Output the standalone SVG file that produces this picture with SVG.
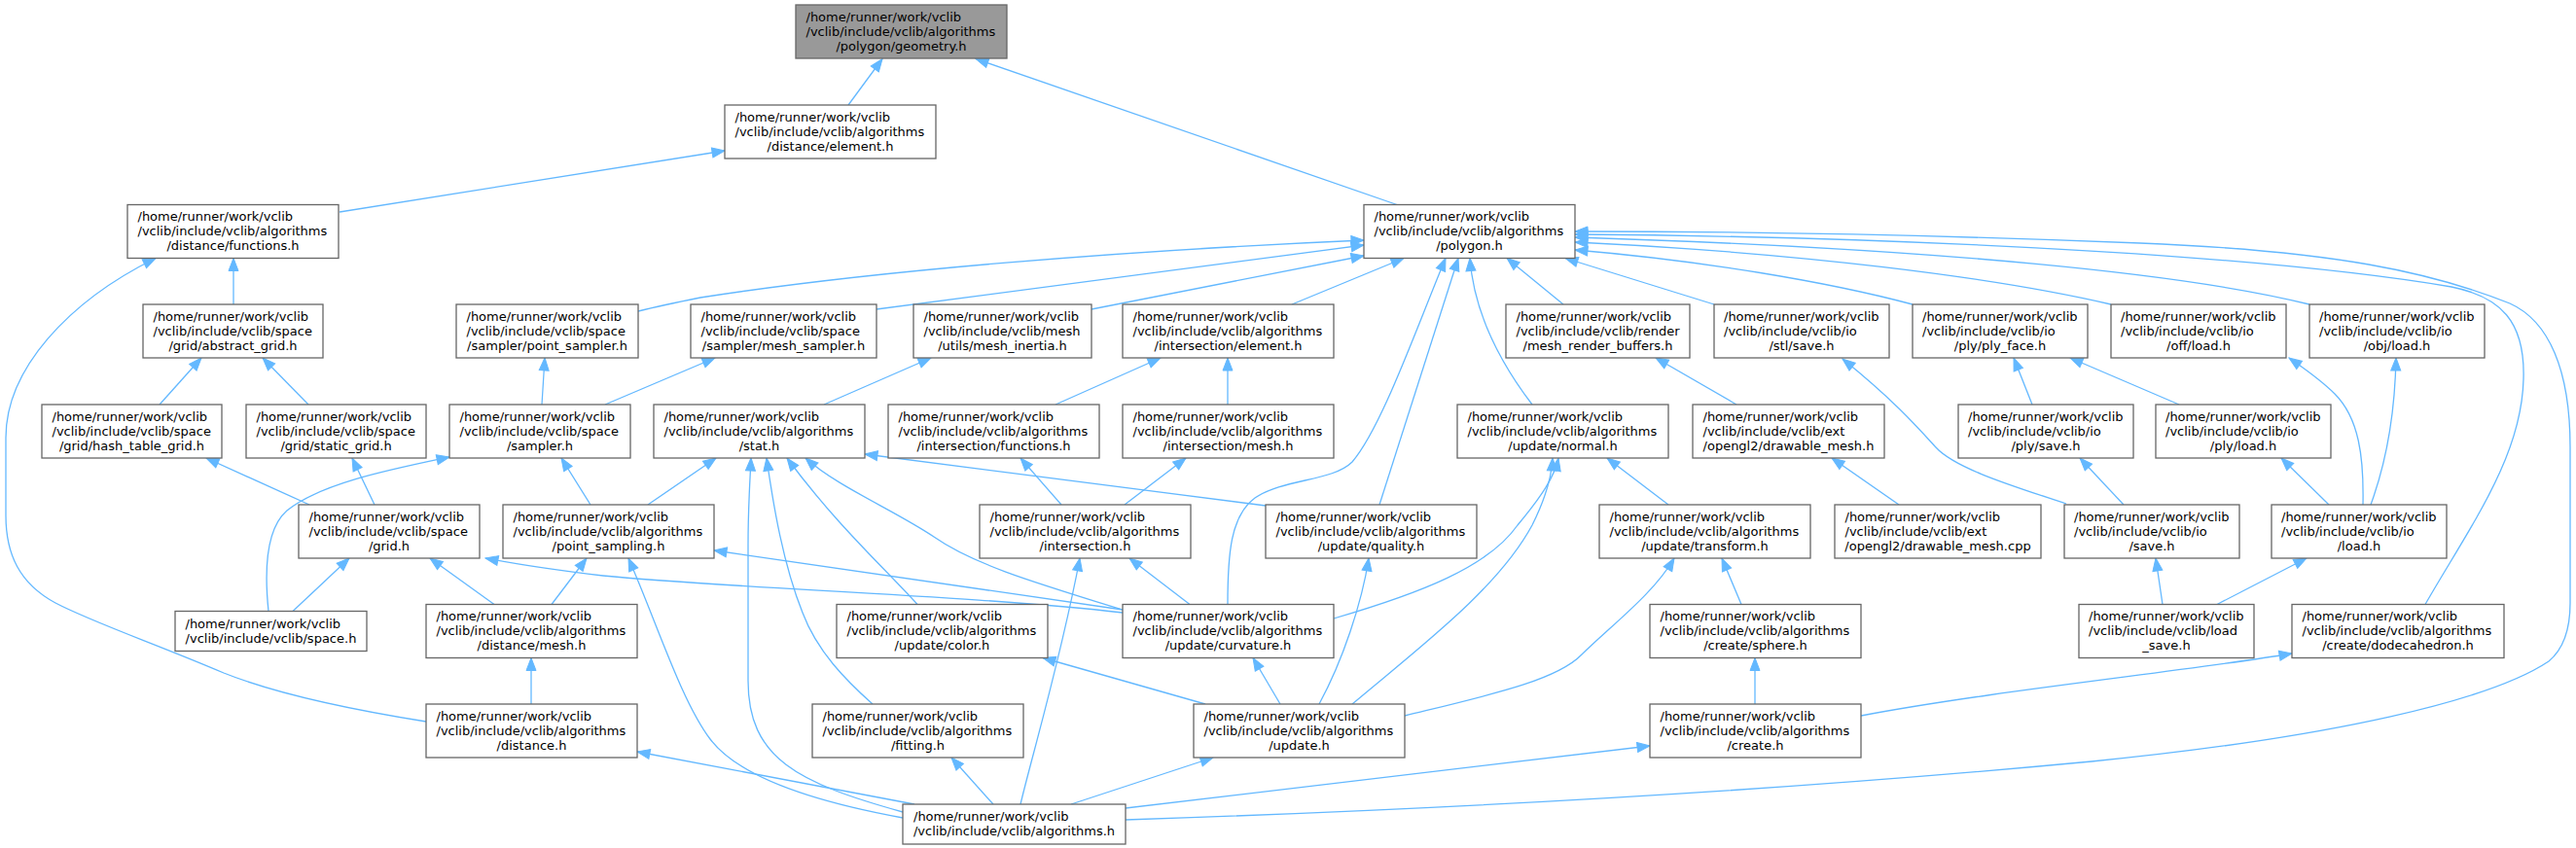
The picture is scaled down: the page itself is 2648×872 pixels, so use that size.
<svg xmlns="http://www.w3.org/2000/svg" width="2648" height="872" viewBox="0 0 2648 872">
<defs>
<marker id="a" markerUnits="userSpaceOnUse" markerWidth="14" markerHeight="10" refX="13" refY="5" orient="auto" overflow="visible">
<path d="M0,0 L13,5 L0,10 Z" fill="#63b8ff" stroke="#63b8ff" stroke-width="1"/>
</marker>
<style>
.n rect{fill:#ffffff;stroke:#666666;stroke-width:1.3}
.hl rect{fill:#999999}
text{font-family:"DejaVu Sans",sans-serif;font-size:13px;fill:#000000}
.m{text-anchor:middle}
#edges path{fill:none;stroke:#63b8ff;stroke-width:1.3;marker-end:url(#a)}
</style>
</defs>
<rect width="2648" height="872" fill="#ffffff"/>
<g id="edges">
<path d="M872,108 L907,60.5"/>
<path d="M1436,210.5 L1003,60.5"/>
<path d="M349,218 L745,155"/>
<path d="M240,313 L240,265.5"/>
<path d="M438,742 C350,728 280,712 230,692 C160,662 95,640 57,620 C20,600 6,570 6,530 L6,450 C6,380 70,310 160,265.5"/>
<path d="M164,416 L207,368"/>
<path d="M317,416 L270,368"/>
<path d="M318,519 L212,471"/>
<path d="M385,519 L362,471"/>
<path d="M276,628.5 C272,590 272,545 295,525 C330,497 400,483 462,470"/>
<path d="M301,628.5 L359,574"/>
<path d="M508,621.5 L442,574"/>
<path d="M567,621.5 L603,574"/>
<path d="M546,724 L546,676.5"/>
<path d="M656,320 C680,314 700,310 720,306 C900,278 1150,258 1402,247"/>
<path d="M901,318 L1402,252"/>
<path d="M1122,318 L1402,263"/>
<path d="M1328,313 L1443,265.5"/>
<path d="M557,416 L560,368"/>
<path d="M622,416 L735,368"/>
<path d="M847,416 L957,368"/>
<path d="M607,519 L577,471"/>
<path d="M666,519 L736,471"/>
<path d="M1301,520 L889,467"/>
<path d="M928,835 C820,805 769,780 769,700 L769,560 C769,520 771,495 772,471"/>
<path d="M928,841 C840,825 760,800 730,760 C700,720 675,640 646,574"/>
<path d="M940,827 L655,773"/>
<path d="M1021,827 L978,779"/>
<path d="M1049,827 C1060,780 1090,680 1110,574"/>
<path d="M1101,827 L1247,779"/>
<path d="M1157,831 L1696,767"/>
<path d="M1157,843 C1400,835 1780,818 2150,783 C2400,758 2560,720 2620,680 C2638,665 2642,640 2642,620 L2642,460 C2642,380 2620,330 2580,312 C2500,280 2400,258 2200,250 C2000,242 1800,238 1619,238"/>
<path d="M2493,621.5 C2540,540 2592,470 2594,390 C2596,330 2570,305 2520,295 C2300,258 1900,243 1619,241"/>
<path d="M2374,313 C2250,282 2000,256 1619,244"/>
<path d="M2170,313 C2050,285 1850,260 1619,249"/>
<path d="M1966,313 C1880,290 1750,268 1619,257"/>
<path d="M1762,313 L1609,265.5"/>
<path d="M1607,313 L1549,265.5"/>
<path d="M1575,416 C1540,370 1515,320 1511,265.5"/>
<path d="M1418,519 L1499,265.5"/>
<path d="M1262,621.5 C1262,570 1265,530 1290,512 C1320,492 1370,495 1390,475 C1420,440 1455,340 1486,265.5"/>
<path d="M1085,416 L1193,368"/>
<path d="M1262,416 L1262,368"/>
<path d="M1091,519 L1049,471"/>
<path d="M1156,519 L1219,471"/>
<path d="M1223,621.5 L1161,574"/>
<path d="M1154,630 C1000,612 750,605 620,592 C560,585 530,580 499,574"/>
<path d="M1154,627 L734,566"/>
<path d="M1154,627 C1060,598 1000,580 960,552 C920,525 860,500 828,471"/>
<path d="M943,621.5 C910,585 860,540 809,471"/>
<path d="M897,724 C870,700 840,670 825,630 C805,580 795,520 788,471"/>
<path d="M1239,724 L1072,676.5"/>
<path d="M1316,724 L1288,676.5"/>
<path d="M1356,724 C1380,680 1400,620 1407,574"/>
<path d="M1390,724 C1460,665 1540,605 1575,540 C1590,510 1595,490 1596,471"/>
<path d="M1444,736 C1530,715 1600,700 1626,673 C1660,640 1700,610 1721,574"/>
<path d="M1371,636 C1460,610 1530,583 1560,540 C1585,510 1598,490 1602,471"/>
<path d="M1715,519 L1652,471"/>
<path d="M1790,621.5 L1770,574"/>
<path d="M1804,724 L1804,676.5"/>
<path d="M1913,736 C2050,710 2250,690 2356,672"/>
<path d="M1785,416 L1702,368"/>
<path d="M1952,519 L1883,471"/>
<path d="M2089,416 L2070,368"/>
<path d="M2240,416 L2128,368"/>
<path d="M2124,518 C2070,500 2010,482 1990,460 C1970,438 1945,410 1894,369"/>
<path d="M2183,519 L2138,471"/>
<path d="M2394,519 L2345,471"/>
<path d="M2429,519 C2430,470 2425,430 2400,405 C2385,390 2370,380 2353,368"/>
<path d="M2437,519 C2455,470 2462,420 2463,368"/>
<path d="M2223,621.5 L2216,574"/>
<path d="M2279,621.5 L2371,574"/>
</g>

<g id="n_geom" class="n hl"><rect x="818" y="5" width="217" height="55"/><text x="828.5" y="21.5">/home/runner/work/vclib</text><text x="828.5" y="36.5">/vclib/include/vclib/algorithms</text><text class="m" x="926.5" y="51.5">/polygon/geometry.h</text></g>
<g id="n_delem" class="n"><rect x="745" y="108" width="217" height="55"/><text x="755.5" y="124.5">/home/runner/work/vclib</text><text x="755.5" y="139.5">/vclib/include/vclib/algorithms</text><text class="m" x="853.5" y="154.5">/distance/element.h</text></g>
<g id="n_dfunc" class="n"><rect x="131" y="210.5" width="217" height="55"/><text x="141.5" y="227">/home/runner/work/vclib</text><text x="141.5" y="242">/vclib/include/vclib/algorithms</text><text class="m" x="239.5" y="257">/distance/functions.h</text></g>
<g id="n_poly" class="n"><rect x="1402" y="210.5" width="217" height="55"/><text x="1412.5" y="227">/home/runner/work/vclib</text><text x="1412.5" y="242">/vclib/include/vclib/algorithms</text><text class="m" x="1510.5" y="257">/polygon.h</text></g>

<g id="n_absgrid" class="n"><rect x="147" y="313" width="185" height="55"/><text x="157.5" y="329.5">/home/runner/work/vclib</text><text x="157.5" y="344.5">/vclib/include/vclib/space</text><text class="m" x="239.5" y="359.5">/grid/abstract_grid.h</text></g>
<g id="n_psampler" class="n"><rect x="469" y="313" width="187" height="55"/><text x="479.5" y="329.5">/home/runner/work/vclib</text><text x="479.5" y="344.5">/vclib/include/vclib/space</text><text class="m" x="562.5" y="359.5">/sampler/point_sampler.h</text></g>
<g id="n_msampler" class="n"><rect x="710" y="313" width="191" height="55"/><text x="720.5" y="329.5">/home/runner/work/vclib</text><text x="720.5" y="344.5">/vclib/include/vclib/space</text><text class="m" x="805.5" y="359.5">/sampler/mesh_sampler.h</text></g>
<g id="n_minertia" class="n"><rect x="939" y="313" width="183" height="55"/><text x="949.5" y="329.5">/home/runner/work/vclib</text><text x="949.5" y="344.5">/vclib/include/vclib/mesh</text><text class="m" x="1030.5" y="359.5">/utils/mesh_inertia.h</text></g>
<g id="n_ielem" class="n"><rect x="1154" y="313" width="217" height="55"/><text x="1164.5" y="329.5">/home/runner/work/vclib</text><text x="1164.5" y="344.5">/vclib/include/vclib/algorithms</text><text class="m" x="1262.5" y="359.5">/intersection/element.h</text></g>
<g id="n_mrb" class="n"><rect x="1548" y="313" width="189" height="55"/><text x="1558.5" y="329.5">/home/runner/work/vclib</text><text x="1558.5" y="344.5">/vclib/include/vclib/render</text><text class="m" x="1642.5" y="359.5">/mesh_render_buffers.h</text></g>
<g id="n_stlsave" class="n"><rect x="1762" y="313" width="180" height="55"/><text x="1772" y="329.5">/home/runner/work/vclib</text><text x="1772" y="344.5">/vclib/include/vclib/io</text><text class="m" x="1852" y="359.5">/stl/save.h</text></g>
<g id="n_plyface" class="n"><rect x="1966" y="313" width="180" height="55"/><text x="1976" y="329.5">/home/runner/work/vclib</text><text x="1976" y="344.5">/vclib/include/vclib/io</text><text class="m" x="2056" y="359.5">/ply/ply_face.h</text></g>
<g id="n_offload" class="n"><rect x="2170" y="313" width="180" height="55"/><text x="2180" y="329.5">/home/runner/work/vclib</text><text x="2180" y="344.5">/vclib/include/vclib/io</text><text class="m" x="2260" y="359.5">/off/load.h</text></g>
<g id="n_objload" class="n"><rect x="2374" y="313" width="180" height="55"/><text x="2384" y="329.5">/home/runner/work/vclib</text><text x="2384" y="344.5">/vclib/include/vclib/io</text><text class="m" x="2464" y="359.5">/obj/load.h</text></g>

<g id="n_hash" class="n"><rect x="43" y="416" width="185" height="55"/><text x="53.5" y="432.5">/home/runner/work/vclib</text><text x="53.5" y="447.5">/vclib/include/vclib/space</text><text class="m" x="135.5" y="462.5">/grid/hash_table_grid.h</text></g>
<g id="n_static" class="n"><rect x="253" y="416" width="185" height="55"/><text x="263.5" y="432.5">/home/runner/work/vclib</text><text x="263.5" y="447.5">/vclib/include/vclib/space</text><text class="m" x="345.5" y="462.5">/grid/static_grid.h</text></g>
<g id="n_sampler" class="n"><rect x="462" y="416" width="186" height="55"/><text x="472.5" y="432.5">/home/runner/work/vclib</text><text x="472.5" y="447.5">/vclib/include/vclib/space</text><text class="m" x="555" y="462.5">/sampler.h</text></g>
<g id="n_stat" class="n"><rect x="672" y="416" width="217" height="55"/><text x="682.5" y="432.5">/home/runner/work/vclib</text><text x="682.5" y="447.5">/vclib/include/vclib/algorithms</text><text class="m" x="780.5" y="462.5">/stat.h</text></g>
<g id="n_ifunc" class="n"><rect x="913" y="416" width="217" height="55"/><text x="923.5" y="432.5">/home/runner/work/vclib</text><text x="923.5" y="447.5">/vclib/include/vclib/algorithms</text><text class="m" x="1021.5" y="462.5">/intersection/functions.h</text></g>
<g id="n_imesh" class="n"><rect x="1154" y="416" width="217" height="55"/><text x="1164.5" y="432.5">/home/runner/work/vclib</text><text x="1164.5" y="447.5">/vclib/include/vclib/algorithms</text><text class="m" x="1262.5" y="462.5">/intersection/mesh.h</text></g>
<g id="n_normal" class="n"><rect x="1498" y="416" width="217" height="55"/><text x="1508.5" y="432.5">/home/runner/work/vclib</text><text x="1508.5" y="447.5">/vclib/include/vclib/algorithms</text><text class="m" x="1606.5" y="462.5">/update/normal.h</text></g>
<g id="n_dmh" class="n"><rect x="1740" y="416" width="197" height="55"/><text x="1750.5" y="432.5">/home/runner/work/vclib</text><text x="1750.5" y="447.5">/vclib/include/vclib/ext</text><text class="m" x="1838.5" y="462.5">/opengl2/drawable_mesh.h</text></g>
<g id="n_plysave" class="n"><rect x="2013" y="416" width="180" height="55"/><text x="2023" y="432.5">/home/runner/work/vclib</text><text x="2023" y="447.5">/vclib/include/vclib/io</text><text class="m" x="2103" y="462.5">/ply/save.h</text></g>
<g id="n_plyload" class="n"><rect x="2216" y="416" width="180" height="55"/><text x="2226" y="432.5">/home/runner/work/vclib</text><text x="2226" y="447.5">/vclib/include/vclib/io</text><text class="m" x="2306" y="462.5">/ply/load.h</text></g>

<g id="n_grid" class="n"><rect x="307" y="519" width="186" height="55"/><text x="317.5" y="535.5">/home/runner/work/vclib</text><text x="317.5" y="550.5">/vclib/include/vclib/space</text><text class="m" x="400" y="565.5">/grid.h</text></g>
<g id="n_psampling" class="n"><rect x="517" y="519" width="217" height="55"/><text x="527.5" y="535.5">/home/runner/work/vclib</text><text x="527.5" y="550.5">/vclib/include/vclib/algorithms</text><text class="m" x="625.5" y="565.5">/point_sampling.h</text></g>
<g id="n_inter" class="n"><rect x="1007" y="519" width="217" height="55"/><text x="1017.5" y="535.5">/home/runner/work/vclib</text><text x="1017.5" y="550.5">/vclib/include/vclib/algorithms</text><text class="m" x="1115.5" y="565.5">/intersection.h</text></g>
<g id="n_quality" class="n"><rect x="1301" y="519" width="217" height="55"/><text x="1311.5" y="535.5">/home/runner/work/vclib</text><text x="1311.5" y="550.5">/vclib/include/vclib/algorithms</text><text class="m" x="1409.5" y="565.5">/update/quality.h</text></g>
<g id="n_transform" class="n"><rect x="1644" y="519" width="217" height="55"/><text x="1654.5" y="535.5">/home/runner/work/vclib</text><text x="1654.5" y="550.5">/vclib/include/vclib/algorithms</text><text class="m" x="1752.5" y="565.5">/update/transform.h</text></g>
<g id="n_dmcpp" class="n"><rect x="1886" y="519" width="212" height="55"/><text x="1896.5" y="535.5">/home/runner/work/vclib</text><text x="1896.5" y="550.5">/vclib/include/vclib/ext</text><text class="m" x="1992" y="565.5">/opengl2/drawable_mesh.cpp</text></g>
<g id="n_iosave" class="n"><rect x="2122" y="519" width="180" height="55"/><text x="2132" y="535.5">/home/runner/work/vclib</text><text x="2132" y="550.5">/vclib/include/vclib/io</text><text class="m" x="2212" y="565.5">/save.h</text></g>
<g id="n_ioload" class="n"><rect x="2335" y="519" width="180" height="55"/><text x="2345" y="535.5">/home/runner/work/vclib</text><text x="2345" y="550.5">/vclib/include/vclib/io</text><text class="m" x="2425" y="565.5">/load.h</text></g>

<g id="n_space" class="n"><rect x="180" y="628.5" width="197" height="41"/><text x="190.5" y="645.5">/home/runner/work/vclib</text><text class="m" x="278.5" y="660.5">/vclib/include/vclib/space.h</text></g>
<g id="n_dmesh" class="n"><rect x="438" y="621.5" width="217" height="55"/><text x="448.5" y="638">/home/runner/work/vclib</text><text x="448.5" y="653">/vclib/include/vclib/algorithms</text><text class="m" x="546.5" y="668">/distance/mesh.h</text></g>
<g id="n_color" class="n"><rect x="860" y="621.5" width="217" height="55"/><text x="870.5" y="638">/home/runner/work/vclib</text><text x="870.5" y="653">/vclib/include/vclib/algorithms</text><text class="m" x="968.5" y="668">/update/color.h</text></g>
<g id="n_curv" class="n"><rect x="1154" y="621.5" width="217" height="55"/><text x="1164.5" y="638">/home/runner/work/vclib</text><text x="1164.5" y="653">/vclib/include/vclib/algorithms</text><text class="m" x="1262.5" y="668">/update/curvature.h</text></g>
<g id="n_sphere" class="n"><rect x="1696" y="621.5" width="217" height="55"/><text x="1706.5" y="638">/home/runner/work/vclib</text><text x="1706.5" y="653">/vclib/include/vclib/algorithms</text><text class="m" x="1804.5" y="668">/create/sphere.h</text></g>
<g id="n_loadsave" class="n"><rect x="2137" y="621.5" width="180" height="55"/><text x="2147" y="638">/home/runner/work/vclib</text><text x="2147" y="653">/vclib/include/vclib/load</text><text class="m" x="2227" y="668">_save.h</text></g>
<g id="n_dodec" class="n"><rect x="2356" y="621.5" width="218" height="55"/><text x="2366.5" y="638">/home/runner/work/vclib</text><text x="2366.5" y="653">/vclib/include/vclib/algorithms</text><text class="m" x="2465" y="668">/create/dodecahedron.h</text></g>

<g id="n_dist" class="n"><rect x="438" y="724" width="217" height="55"/><text x="448.5" y="740.5">/home/runner/work/vclib</text><text x="448.5" y="755.5">/vclib/include/vclib/algorithms</text><text class="m" x="546.5" y="770.5">/distance.h</text></g>
<g id="n_fitting" class="n"><rect x="835" y="724" width="217" height="55"/><text x="845.5" y="740.5">/home/runner/work/vclib</text><text x="845.5" y="755.5">/vclib/include/vclib/algorithms</text><text class="m" x="943.5" y="770.5">/fitting.h</text></g>
<g id="n_update" class="n"><rect x="1227" y="724" width="217" height="55"/><text x="1237.5" y="740.5">/home/runner/work/vclib</text><text x="1237.5" y="755.5">/vclib/include/vclib/algorithms</text><text class="m" x="1335.5" y="770.5">/update.h</text></g>
<g id="n_create" class="n"><rect x="1696" y="724" width="217" height="55"/><text x="1706.5" y="740.5">/home/runner/work/vclib</text><text x="1706.5" y="755.5">/vclib/include/vclib/algorithms</text><text class="m" x="1804.5" y="770.5">/create.h</text></g>

<g id="n_alg" class="n"><rect x="928" y="827" width="229" height="41"/><text x="939" y="844">/home/runner/work/vclib</text><text class="m" x="1042.5" y="859">/vclib/include/vclib/algorithms.h</text></g>
</svg>
